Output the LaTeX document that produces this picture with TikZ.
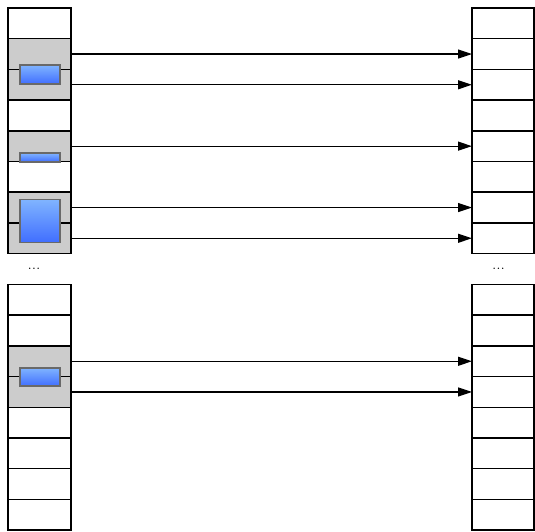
\documentclass[tikz,border=0pt]{standalone}
\definecolor{cellgray}{RGB}{204, 204, 204}
\definecolor{blocktop}{RGB}{128, 180, 255}
\definecolor{blockbot}{RGB}{64, 110, 255}
\definecolor{blockedge}{RGB}{105, 105, 105}
\usepackage{tikz}
\usetikzlibrary{arrows.meta, positioning}

\begin{document}
\begin{tikzpicture}[
    x=1pt, y=-1pt,
    arr/.style={-{Triangle[length=14pt, width=9pt]}, line width=1.2pt},
    cell/.style={draw, line width=1.5pt, minimum width=63pt,
                 minimum height=30.7pt, inner sep=0pt, outer sep=0pt},
    blk/.style={draw=blockedge, line width=1.6pt, inner sep=0pt,
                top color=blocktop, bottom color=blockbot, minimum width=40pt},
    dots/.style={font=\LARGE, inner sep=0pt}
  ]
    \useasboundingbox (0,0) rectangle (535,531);

    % upper part of both tables
    \foreach \i/\c in {1/white,2/cellgray,3/cellgray,4/white,5/cellgray,6/white,7/cellgray,8/cellgray} {
      \node[cell, fill=\c] (a\i) at (39.5, {8+30.7*(\i-0.5)}) {};
      \node[cell, minimum width=62pt] (b\i) at (503, {8+30.7*(\i-0.5)}) {};
    }
    % lower part
    \foreach \i/\c in {1/white,2/white,3/cellgray,4/cellgray,5/white,6/white,7/white,8/white} {
      \node[cell, fill=\c] (c\i) at (39.5, {284.5+30.7*(\i-0.5)}) {};
      \node[cell, minimum width=62pt] (d\i) at (503, {284.5+30.7*(\i-0.5)}) {};
    }

    \node[blk, minimum height=19pt] (obj1) at (40, 74.5) {};
    \node[blk, minimum height=9pt] (obj2) at (40, 157.5) {};
    \node[blk, minimum height=43pt] (obj3) at (40, 221) {};
    \node[blk, minimum height=18.5pt] (obj4) at (40, 377) {};

    \node[dots] (ldots) at (34, 268.5) {...};
    \node[dots] (rdots) at (498.5, 268.5) {...};

    \foreach \i in {2,3,5,7,8}
      \draw[arr] (a\i.east) -- (b\i.west);
    \foreach \i in {3,4}
      \draw[arr] (c\i.east) -- (d\i.west);
\end{tikzpicture}
\end{document}
